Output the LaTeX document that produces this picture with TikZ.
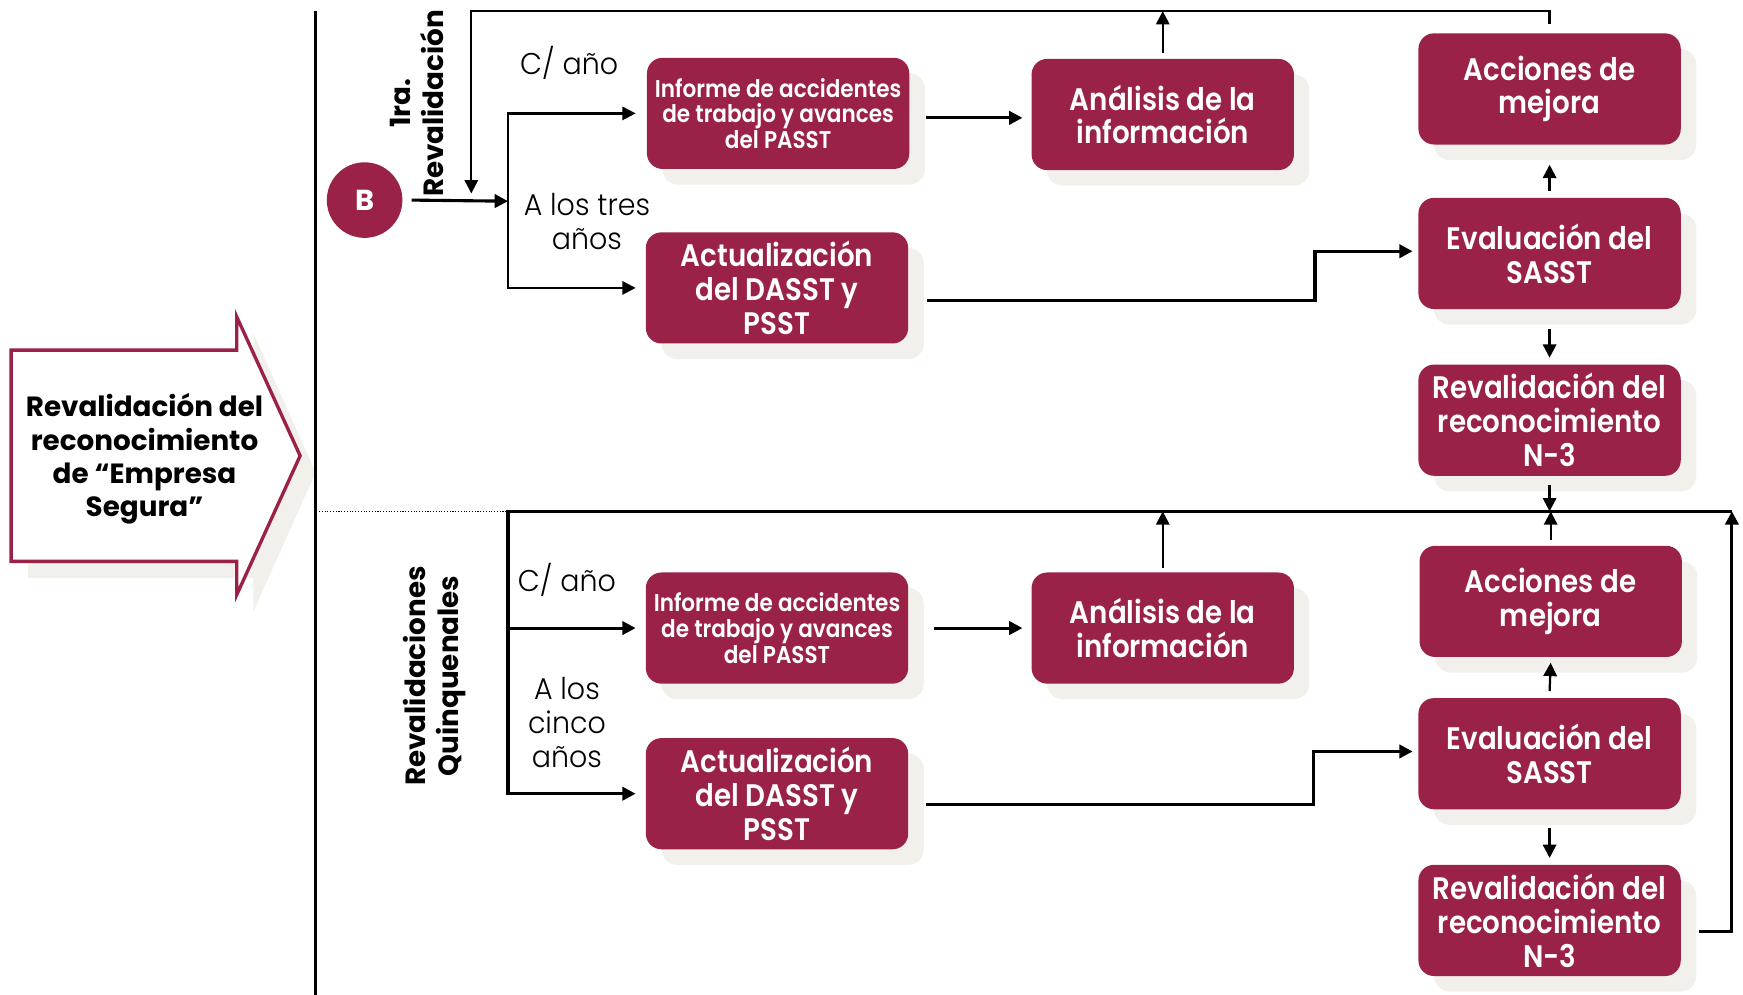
\documentclass[tikz,border=0pt]{standalone}
\usepackage{fontspec}
\setmainfont{Poppins}
\newfontfamily\cajafont{Poppins SemiBold}[FakeStretch=0.89]
\newfontfamily\finafont{Poppins Light}[FakeStretch=0.95]
\usetikzlibrary{arrows.meta, shadows}

\definecolor{guinda}{HTML}{9B2247}
\definecolor{sombra}{HTML}{F1F0EB}

\begin{document}
\begin{tikzpicture}[x=1pt, y=-1pt,
    caja/.style = {fill=guinda, rounded corners=14pt, minimum width=236pt, minimum height=100pt, inner sep=1pt, text=white, align=center, font=\cajafont\fontsize{28}{30.5}\selectfont, drop shadow={shadow xshift=14pt, shadow yshift=-14pt, fill=sombra, opacity=1}},
    chica/.style = {caja, font=\cajafont\fontsize{21.8}{23}\selectfont},
    gruesa/.style = {line width=2.8pt, -{Triangle[length=12pt, width=12pt]}},
    fina/.style = {line width=2pt, -{Triangle[length=12pt, width=12pt]}},
    doble/.style = {line width=2pt, {Triangle[length=12pt, width=12pt]}-{Triangle[length=12pt, width=12pt]}},
    nota/.style = {font=\finafont\fontsize{27}{30.5}\selectfont, align=center},
    girado/.style = {rotate=90, align=center, font=\bfseries\fontsize{25}{30}\selectfont}]

    \useasboundingbox (0,0) rectangle (1568,895);

    % flecha de la izquierda
    \fill[sombra] (25,330) -- (228,330) -- (228,300) -- (284,425) -- (228,550) -- (228,520) -- (25,520) -- cycle;
    \draw[guinda, line width=3pt, fill=white] (10,315) -- (213,315) -- (213,285) -- (270,410) -- (213,535) -- (213,505) -- (10,505) -- cycle;
    \node[font=\bfseries\fontsize{25}{30}\selectfont, align=center] (titulo) at (130,413) {Revalidación del\\reconocimiento\\de “Empresa\\Segura”};

    \draw[line width=3pt] (284,10) -- (284,895);

    % primera revalidacion
    \node[circle, fill=guinda, minimum size=68pt, text=white, font=\bfseries\fontsize{26}{26}\selectfont] (b) at (328,180) {B};
    \node[girado] (primera) at (375,93) {1ra.\\Revalidación};

    \node[nota] (anio1) at (512,57) {C/ año};
    \node[nota] (tres) at (528,199) {A los tres\\años};

    \node[chica] (inf1) at (700,102) {Informe de accidentes\\de trabajo y avances\\del PASST};
    \node[caja] (act1) at (699,259) {Actualización\\del DASST y\\PSST};
    \node[caja] (ana1) at (1046,103) {Análisis de la\\información};
    \node[caja] (acc1) at (1394,80) {Acciones de\\mejora};
    \node[caja] (eva1) at (1394,228) {Evaluación del\\SASST};
    \node[caja] (rev1) at (1394,378) {Revalidación del\\reconocimiento\\N-3};

    \coordinate (j1) at (457,181);
    \coordinate (s1) at (457,102);
    \coordinate (s2) at (457,259);
    \coordinate (t1) at (1394,10);
    \coordinate (t2) at (424,10);
    \coordinate (llega) at (424,174);
    \coordinate (codo1) at (1183,226);

    \draw[gruesa] ([xshift=8pt]b.east) -- (j1);
    \draw[doble] ([xshift=-10pt]inf1.west) -- (s1) -- (s2) -- ([xshift=-9pt]act1.west);
    \draw[fina] ([yshift=8pt]acc1.north) -- (t1) -- (t2) -- (llega);
    \draw[fina] ([yshift=5pt]ana1.north) -- (ana1.north |- t1);
    \draw[gruesa] ([xshift=15pt,yshift=-4pt]inf1.east) -- ([xshift=-8pt,yshift=-3pt]ana1.west);
    \draw[gruesa] ([xshift=17pt,yshift=-11pt]act1.east) -| (codo1) -- ([xshift=-5pt]codo1 -| eva1.west);
    \draw[fina] ([yshift=6pt]eva1.north) -- ([yshift=-18pt]acc1.south);
    \draw[fina] ([yshift=-18pt]eva1.south) -- ([yshift=6pt]rev1.north);

    % revalidaciones quinquenales
    \coordinate (b1) at (457,460);
    \coordinate (b2) at (1558,460);
    \coordinate (codo2) at (1182,676);

    \draw[line width=1pt, dash pattern=on 1pt off 1.5pt] (287,460) -- (b1);
    \node[girado] (quinq) at (391,608) {Revalidaciones\\Quinquenales};

    \node[nota] (anio2) at (510,522) {C/ año};
    \node[nota] (cinco) at (510,650) {A los\\cinco\\años};

    \node[chica] (inf2) at (699,565) {Informe de accidentes\\de trabajo y avances\\del PASST};
    \node[caja] (act2) at (699,714) {Actualización\\del DASST y\\PSST};
    \node[caja] (ana2) at (1046,565) {Análisis de la\\información};
    \node[caja] (acc2) at (1395,541) {Acciones de\\mejora};
    \node[caja] (eva2) at (1394,678) {Evaluación del\\SASST};
    \node[caja] (rev2) at (1394,828) {Revalidación del\\reconocimiento\\N-3};

    \draw[fina] ([yshift=-8pt]rev1.south) -- (rev1.south |- b1);
    \draw[gruesa] (b2) -- (b1) |- ([xshift=-9pt]act2.west);
    \draw[gruesa] (b1 |- inf2.west) -- ([xshift=-9pt]inf2.west);
    \draw[gruesa] ([xshift=23pt]inf2.east) -- ([xshift=-8pt]ana2.west);
    \draw[fina] ([yshift=4pt]ana2.north) -- (ana2.north |- b1);
    \draw[fina] ([yshift=5pt]acc2.north) -- (acc2.north |- b1);
    \draw[fina] ([yshift=6pt]eva2.north) -- ([yshift=-5pt]acc2.south);
    \draw[fina] ([yshift=-17pt]eva2.south) -- ([yshift=6pt]rev2.north);
    \draw[gruesa] ([xshift=16pt,yshift=-10pt]act2.east) -| (codo2) -- ([xshift=-5pt]codo2 -| eva2.west);
    \draw[gruesa] ([xshift=16pt,yshift=-10pt]rev2.east) -| (b2);

\end{tikzpicture}
\end{document}
